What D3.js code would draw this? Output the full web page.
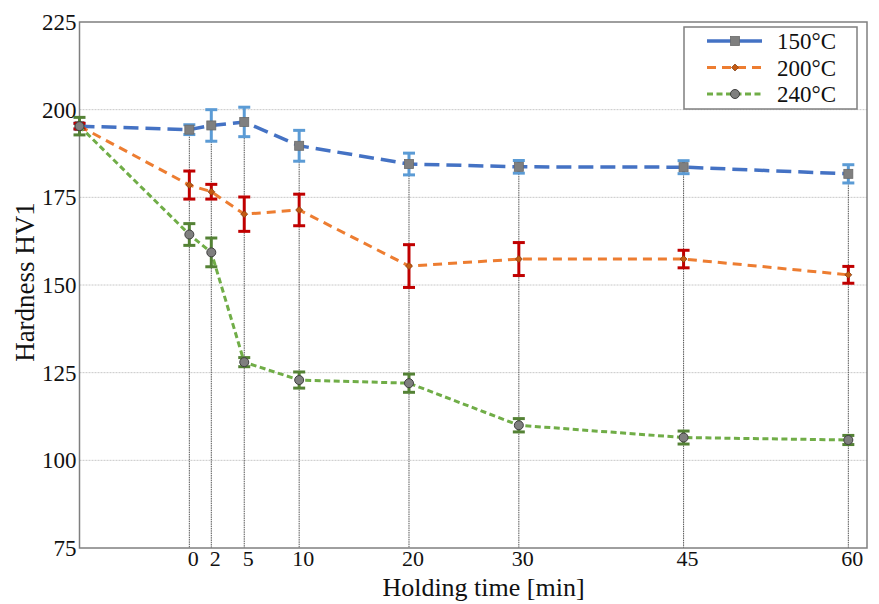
<!DOCTYPE html>
<html>
<head>
<meta charset="utf-8">
<script src="https://cdn.jsdelivr.net/npm/d3@7"></script>
<style>
  body { margin: 0; background: #fff; }
  text { font-family: "Liberation Serif", "Times New Roman", serif; fill: #111; }
</style>
</head>
<body>
<div id="chart"></div>
<script>
// holding times (min), -10 is the untreated reference state
var times = [-10, 0, 2, 5, 10, 20, 30, 45, 60];
var xTicks = [0, 2, 5, 10, 20, 30, 45, 60];
var yTicks = [75, 100, 125, 150, 175, 200, 225];

var h150 = [195.3, 194.3, 195.5, 196.5, 189.7, 184.5, 183.7, 183.6, 181.7];
var e150 = [0.8, 1.4, 4.5, 4.2, 4.4, 3.1, 1.8, 1.85, 2.6];
var h200 = [195.3, 178.5, 176.6, 170.2, 171.4, 155.4, 157.4, 157.4, 152.9];
var e200 = [0.8, 4.0, 2.1, 4.9, 4.5, 6.1, 4.7, 2.5, 2.4];
var h240 = [195.3, 164.4, 159.3, 128.0, 122.9, 122.0, 110.0, 106.5, 105.8];
var e240 = [2.5, 3.1, 4.1, 1.3, 2.3, 2.6, 1.9, 1.85, 1.3];

var names = ["150°C", "200°C", "240°C"];

var serif = "'Liberation Serif', 'Times New Roman', serif";

var margin = {top: 22, right: 12, bottom: 56, left: 79.5},
    width = 879 - margin.left - margin.right,
    height = 604 - margin.top - margin.bottom;

var x = d3.scaleLinear().domain([-10, 61.7]).range([0, width]);
var y = d3.scaleLinear().domain([75, 225]).range([height, 0]);

var series = [
  {name: names[0], vals: h150, err: e150, line: "#4472c4", dash: "15,7", lw: 3.5, errColor: "#5b9bd5", marker: "square"},
  {name: names[1], vals: h200, err: e200, line: "#ed7d31", dash: "9,6", lw: 3, errColor: "#c00000", marker: "diamond"},
  {name: names[2], vals: h240, err: e240, line: "#70ad47", dash: "6,3.5", lw: 3, errColor: "#548235", marker: "circle"}
];

var svg = d3.select("#chart").append("svg")
    .attr("width", 879).attr("height", 604)
  .append("g")
    .attr("transform", "translate(" + margin.left + "," + margin.top + ")");

// horizontal gridlines
svg.selectAll(".grid").data(yTicks.slice(1, -1)).enter().append("line")
    .attr("x1", 0).attr("x2", width)
    .attr("y1", d => y(d)).attr("y2", d => y(d))
    .attr("stroke", "#c8c8c8").attr("stroke-width", 1).attr("stroke-dasharray", "2,1");

// drop lines from highest series to the axis
svg.selectAll(".drop").data(times.filter(t => t >= 0)).enter().append("line")
    .attr("x1", d => x(d)).attr("x2", d => x(d))
    .attr("y1", (d) => { var i = times.indexOf(d); return y(Math.max(h150[i], h200[i], h240[i])); })
    .attr("y2", height)
    .attr("stroke", "#555").attr("stroke-width", 1).attr("stroke-dasharray", "1.5,0.8");

// plot frame
svg.append("rect").attr("width", width).attr("height", height)
    .attr("fill", "none").attr("stroke", "#7f7f7f").attr("stroke-width", 1.5);

// axis labels
svg.selectAll(".ytick").data(yTicks).enter().append("text")
    .attr("x", -3).attr("y", d => y(d)).attr("dy", "0.35em")
    .attr("text-anchor", "end")
    .style("font-family", serif).style("font-size", "23px")
    .text(d => d);

svg.selectAll(".xtick").data(xTicks).enter().append("text")
    .attr("x", d => x(d) + 4).attr("y", height + 18)
    .attr("text-anchor", "middle")
    .style("font-family", serif).style("font-size", "22px")
    .text(d => d);

svg.append("text")
    .attr("x", 404).attr("y", height + 48)
    .attr("text-anchor", "middle")
    .style("font-family", serif).style("font-size", "26px")
    .text("Holding time [min]");

svg.append("text")
    .attr("transform", "translate(-46," + (282 - margin.top) + ") rotate(-90)")
    .attr("text-anchor", "middle")
    .style("font-family", serif).style("font-size", "27px")
    .text("Hardness HV1");

var lineGen = d3.line().x((d, i) => x(times[i])).y(d => y(d));

function drawMarker(g, s, cx, cy) {
  if (s.marker == "square") {
    g.append("rect").attr("x", cx - 4.5).attr("y", cy - 4.5).attr("width", 9).attr("height", 9)
      .attr("fill", "#7f7f7f").attr("stroke", "#6a6a6a").attr("stroke-width", 0.8);
  } else if (s.marker == "diamond") {
    g.append("path").attr("d", "M" + cx + "," + (cy - 3.5) + "L" + (cx + 3.5) + "," + cy + "L" + cx + "," + (cy + 3.5) + "L" + (cx - 3.5) + "," + cy + "Z")
      .attr("fill", "#c55a11").attr("stroke", "#7a3a10").attr("stroke-width", 0.7);
  } else {
    g.append("circle").attr("cx", cx).attr("cy", cy).attr("r", 4.5)
      .attr("fill", "#7f7f7f").attr("stroke", "#404040").attr("stroke-width", 1);
  }
}

series.forEach(function(s) {
  var g = svg.append("g");
  g.append("path").datum(s.vals)
    .attr("d", lineGen)
    .attr("fill", "none").attr("stroke", s.line)
    .attr("stroke-width", s.lw).attr("stroke-dasharray", s.dash);

  // error bars
  s.vals.forEach(function(v, i) {
    var cx = x(times[i]), top = y(v + s.err[i]), bot = y(v - s.err[i]);
    g.append("line").attr("x1", cx).attr("x2", cx).attr("y1", top).attr("y2", bot)
      .attr("stroke", s.errColor).attr("stroke-width", 3);
    [top, bot].forEach(function(yy) {
      g.append("line").attr("x1", cx - 6).attr("x2", cx + 6).attr("y1", yy).attr("y2", yy)
        .attr("stroke", s.errColor).attr("stroke-width", 3);
    });
  });

  s.vals.forEach(function(v, i) { drawMarker(g, s, x(times[i]), y(v)); });
});

// legend
var lx = 684 - margin.left, ly = 27 - margin.top;
var legend = svg.append("g").attr("transform", "translate(" + lx + "," + ly + ")");
legend.append("rect").attr("width", 173).attr("height", 82)
  .attr("fill", "#fff").attr("stroke", "#7f7f7f").attr("stroke-width", 1.5);

series.forEach(function(s, i) {
  var yy = 14 + i * 26.5;
  legend.append("line").attr("x1", 23).attr("x2", 78).attr("y1", yy).attr("y2", yy)
    .attr("stroke", s.line).attr("stroke-width", s.lw)
    .attr("stroke-dasharray", i == 0 ? null : s.dash);
  drawMarker(legend, s, 51, yy);
  legend.append("text").attr("x", 93).attr("y", yy).attr("dy", "0.35em")
    .style("font-family", serif).style("font-size", "23px").text(s.name);
});
</script>
</body>
</html>
